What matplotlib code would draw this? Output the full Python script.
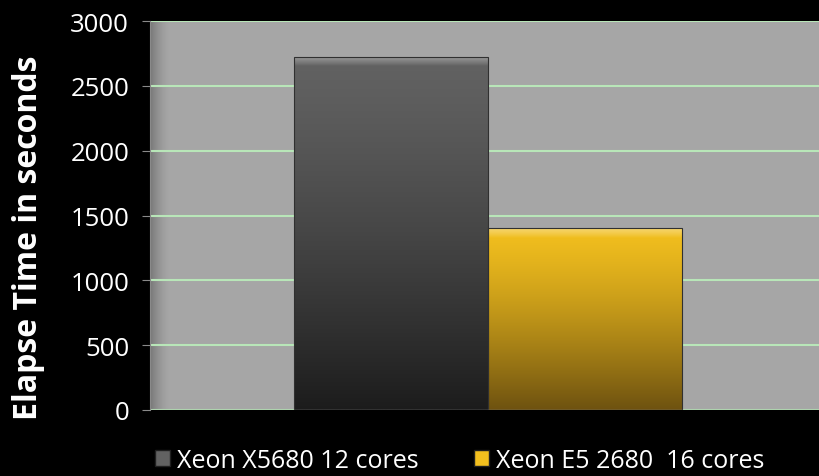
import numpy as np
import matplotlib.pyplot as plt
from matplotlib.patches import Rectangle

# datos
series = ['Xeon X5680 12 cores', 'Xeon E5 2680  16 cores']
tiempos = [2720, 1400]
colores_arriba = ['#626262', '#f2bf1e']
colores_abajo = ['#1c1c1c', '#6e5210']
yticks = [0, 500, 1000, 1500, 2000, 2500, 3000]

plt.rcParams['font.family'] = ['Open Sans', 'DejaVu Sans']

fig = plt.figure(figsize=(8.19, 4.77), dpi=100, facecolor='black')
ax = fig.add_axes([150 / 819, 66 / 477, 669 / 819, 389 / 477])
ax.set_facecolor('#a6a6a6')

# sombreado a la izquierda del área de trazado
grad = np.linspace(0, 1, 1000)[None, :]
sombra = np.clip(grad * 35, 0, 1)
fondo = np.zeros((1, 1000, 4))
fondo[..., :3] = 0.35
fondo[..., 3] = (1 - sombra) ** 1.5 * 0.6
ax.imshow(fondo, extent=(0, 1, 0, 1), transform=ax.transAxes,
          aspect='auto', zorder=0.5, interpolation='bilinear')

ax.set_xlim(-0.5, 0.49)
ax.set_ylim(0, 3000)
ax.set_yticks(yticks)
ax.grid(axis='y', color='#b8e6b8', linewidth=1.5, zorder=1)
ax.set_xticks([])

ancho = 0.287
posiciones = [-ancho / 2, ancho / 2]


def degradado(c1, c2, n=256):
    a = np.array(plt.matplotlib.colors.to_rgb(c1))
    b = np.array(plt.matplotlib.colors.to_rgb(c2))
    t = np.linspace(0, 1, n)[:, None] ** 1.3
    return (a * (1 - t) + b * t)[:, None, :]


barras = ax.bar(posiciones, tiempos, width=ancho, color='none',
                edgecolor='#303030', linewidth=0.8, zorder=3)
for barra, c1, c2, nombre in zip(barras, colores_arriba, colores_abajo, series):
    x0, y0 = barra.get_x(), barra.get_y()
    w, h = barra.get_width(), barra.get_height()
    img = ax.imshow(degradado(c1, c2), extent=(x0, x0 + w, y0, y0 + h),
                    aspect='auto', zorder=2, origin='upper')
    img.set_clip_path(barra)
    # bisel superior más claro
    bisel = ax.imshow(degradado('#ffffff', c1, 64), alpha=0.35,
                      extent=(x0, x0 + w, y0 + h - 70, y0 + h),
                      aspect='auto', zorder=2.5, origin='upper')
    bisel.set_clip_path(barra)
    ax.add_patch(Rectangle((0, 0), 0, 0, facecolor=c1, edgecolor='#202020',
                           label=nombre))

for lado in ['top', 'right', 'bottom']:
    ax.spines[lado].set_visible(False)
ax.spines['left'].set_color('#8a8a8a')
ax.tick_params(axis='y', colors='#8a8a8a', labelcolor='white',
               labelsize=18.5, length=6, direction='out', pad=9)
ax.tick_params(axis='x', length=0)
ax.axhline(0, color='#8a8a8a', linewidth=1, zorder=4)

ax.set_ylabel('Elapse Time in seconds', color='white', fontsize=23,
              fontweight='bold')
ax.yaxis.set_label_coords(-0.157, 0.446)

ax.legend(loc='upper center', bbox_to_anchor=(0.463, -0.04), ncol=2,
          frameon=False, fontsize=18, labelcolor='white', handlelength=0.6,
          handleheight=0.6, handletextpad=0.3, columnspacing=2.2)

fig.savefig('out.png', dpi=100, facecolor='black')
